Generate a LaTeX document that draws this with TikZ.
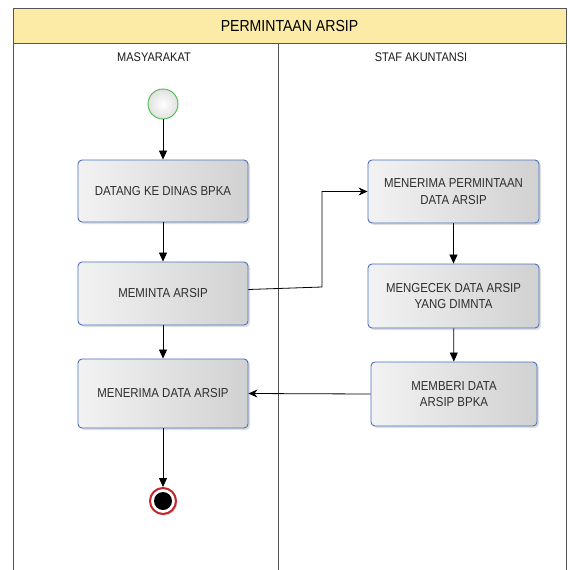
\documentclass[tikz,border=0pt]{standalone}
\usepackage{fontspec}
\setmainfont[FakeStretch=0.88]{Liberation Sans}
\usetikzlibrary{arrows.meta,shadows,positioning}
\definecolor{titlefill}{HTML}{FBEBA6}
\definecolor{boxedge}{HTML}{4A6FC2}
\definecolor{startedge}{HTML}{4CB84C}
\definecolor{endedge}{HTML}{C3262B}
\definecolor{frameline}{HTML}{555555}
\tikzset{
  x=1pt, y=-1pt,
  lane/.style={draw=frameline, line width=0.8pt},
  lanelabel/.style={font=\fontsize{12.5}{15}\selectfont, text=black!90},
  actbox/.style={draw=boxedge, line width=0.9pt, rounded corners=4pt,
    left color=white!95!black, right color=black!18,
    drop shadow={shadow xshift=2pt, shadow yshift=-2pt, opacity=0.25},
    minimum width=170pt, align=center, font=\fontsize{13}{16.5}\selectfont,
    text=black!82, inner sep=0pt},
  flow/.style={draw=black, line width=0.8pt, -{Triangle[length=9pt,width=8pt]}},
  hflow/.style={draw=black, line width=0.8pt, -{Stealth[length=9pt,width=8pt]}},
}
\begin{document}
\begin{tikzpicture}
\useasboundingbox (0,0) rectangle (570,570);
% pool frame and title band
\fill[titlefill] (13,8) rectangle (566,43);
\draw[lane] (13,572) -- (13,8) -- (566,8) -- (566,572);
\draw[lane] (13,43) -- (566,43);
\draw[lane] (278,43) -- (278,572);
\node[font=\fontsize{16}{18}\selectfont] (title) at (289.5,25.5) {PERMINTAAN ARSIP};
\node[lanelabel] (laneA) at (154,57) {MASYARAKAT};
\node[lanelabel] (laneB) at (421,57) {STAF AKUNTANSI};

% start and end
\node[circle, draw=startedge, line width=0.9pt, minimum size=30pt, inner sep=0pt,
  inner color=white, outer color=black!12] (start) at (163,104) {};
\node[circle, draw=endedge, line width=2pt, fill=white, minimum size=26pt, inner sep=0pt,
  drop shadow={shadow xshift=1.5pt, shadow yshift=-1.5pt, opacity=0.3}] (stop) at (163,501) {};
\node[circle, fill=black, minimum size=18pt, inner sep=0pt] (stopdot) at (163,501) {};

% activities
\node[actbox, minimum height=62pt] (datang) at (163,191) {DATANG KE DINAS BPKA};
\node[actbox, minimum height=63pt] (meminta) at (163,293.5) {MEMINTA ARSIP};
\node[actbox, minimum height=69pt] (menerimaA) at (163,393.5) {MENERIMA DATA ARSIP};
\node[actbox, minimum width=171pt, minimum height=63pt] (menerimaP) at (453.5,191.5) {MENERIMA PERMINTAAN\\DATA ARSIP};
\node[actbox, minimum width=171pt, minimum height=64pt] (cek) at (453.5,296) {MENGECEK DATA ARSIP\\YANG DIMNTA};
\node[actbox, minimum width=166pt, minimum height=64pt] (beri) at (454,394) {MEMBERI DATA\\ARSIP BPKA};

% control flow
\draw[flow] (start) -- (datang);
\draw[flow] (datang) -- (meminta);
\draw[flow] (meminta) -- (menerimaA);
\draw[flow] (menerimaA) -- (stop);
\coordinate (bendA) at (322,287);
\draw[hflow] ([yshift=4pt]meminta.east) -- (bendA) |- (menerimaP.west);
\draw[flow] (menerimaP) -- (cek);
\draw[flow] (cek) -- (beri);
\draw[hflow] (beri.west) -- (menerimaA.east);
\end{tikzpicture}
\end{document}
